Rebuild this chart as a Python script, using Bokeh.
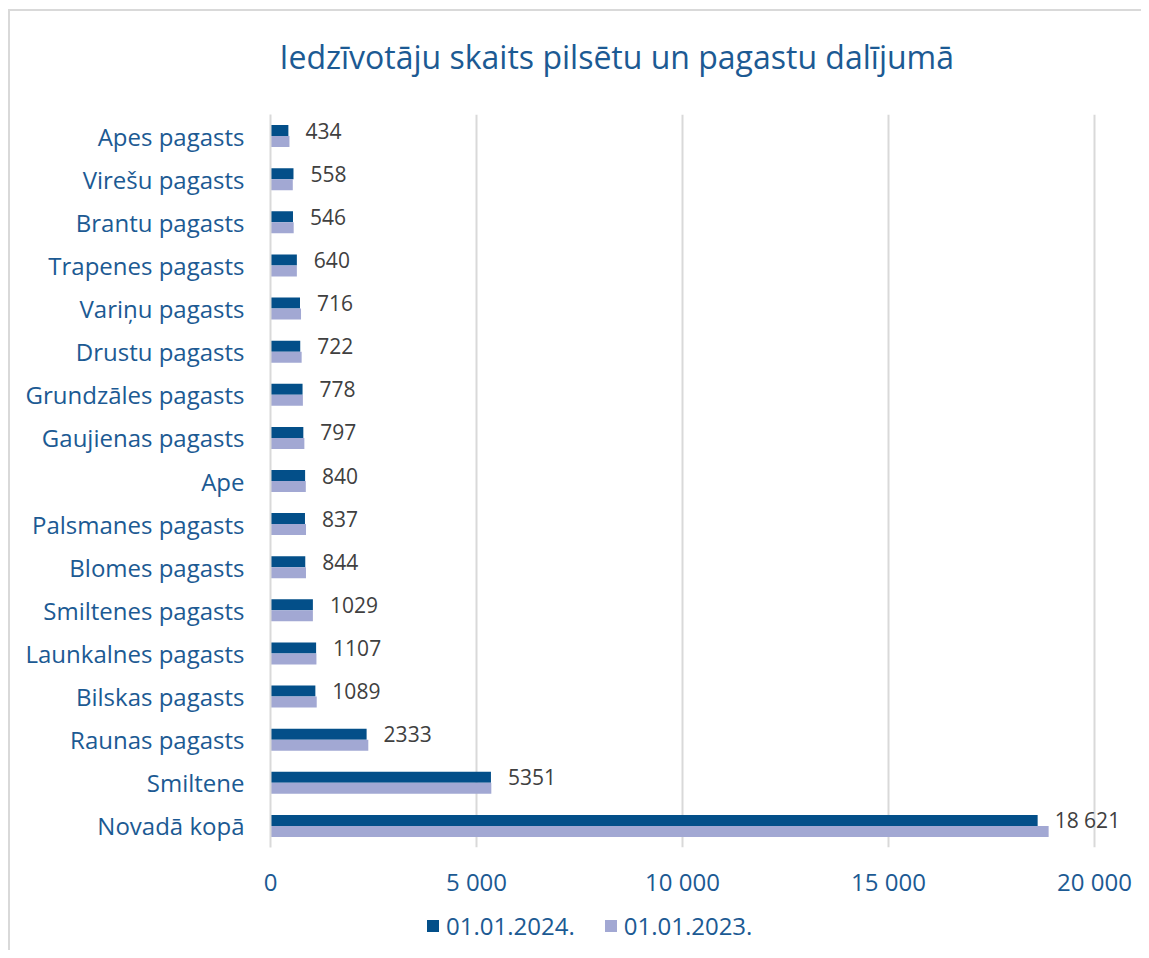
from bokeh.plotting import figure
from bokeh.layouts import column
from bokeh.models import (FactorRange, Range1d, FixedTicker, Legend, LegendItem,
                          ColumnDataSource, Label)
from bokeh.transform import dodge
from bokeh.core.properties import value
from bokeh.embed import file_html
from bokeh.resources import INLINE

title_text = "Iedzīvotāju skaits pilsētu un pagastu dalījumā"
categories = ["Apes pagasts", "Virešu pagasts", "Brantu pagasts", "Trapenes pagasts",
              "Variņu pagasts", "Drustu pagasts", "Grundzāles pagasts", "Gaujienas pagasts",
              "Ape", "Palsmanes pagasts", "Blomes pagasts", "Smiltenes pagasts",
              "Launkalnes pagasts", "Bilskas pagasts", "Raunas pagasts", "Smiltene", "Novadā kopā"]
values_2024 = [434, 558, 546, 640, 716, 722, 778, 797, 840, 837, 844, 1029, 1107, 1089, 2333, 5351, 18621]
values_2023 = [460, 541, 563, 640, 741, 756, 786, 822, 857, 862, 861, 1029, 1115, 1122, 2374, 5360, 18888]
labels_2024 = ["434", "558", "546", "640", "716", "722", "778", "797", "840", "837", "844",
               "1029", "1107", "1089", "2333", "5351", "18 621"]
series_names = ["01.01.2024.", "01.01.2023."]
x_ticks = [0, 5000, 10000, 15000, 20000]
x_tick_labels = ["0", "5 000", "10 000", "15 000", "20 000"]

BLUE_TEXT = "#1c5a93"
DARK = "#034f89"
LIGHT = "#a2a8d3"
GRID = "#d9d9d9"
FONT = "Open Sans"
LEFT_BORDER = {"background-color": "white",
               "box-shadow": "inset 8px 0 0 0 white, inset 10px 0 0 0 #d9d9d9"}
TOP_LEFT_BORDER = {"background-color": "white",
                   "box-shadow": "inset 8px 9px 0 0 white, inset 10px 11px 0 0 #d9d9d9"}

W = 1141
FRAME_L, FRAME_R = 270, 11

# ---- title strip ----
top = figure(width=W, height=114, output_backend="svg", toolbar_location=None,
             x_range=Range1d(0, W - FRAME_L - FRAME_R), y_range=Range1d(0, 114),
             min_border_left=FRAME_L, min_border_right=FRAME_R,
             min_border_top=0, min_border_bottom=0)
top.axis.visible = False
top.grid.visible = False
top.outline_line_color = None
top.background_fill_color = None
top.border_fill_color = None
top.styles = TOP_LEFT_BORDER
top.add_layout(Label(x=9, y=58.5, text=title_text, text_align="left",
                     text_baseline="alphabetic", text_font=FONT, text_font_size="32px",
                     text_color=BLUE_TEXT))

# ---- main chart ----
src = ColumnDataSource(dict(cat=categories, v24=values_2024, v23=values_2023, lab=labels_2024))

p = figure(width=W, height=789, output_backend="svg", toolbar_location=None,
           y_range=FactorRange(factors=list(reversed(categories)), range_padding=0),
           x_range=Range1d(0, 20875))
p.min_border_left = FRAME_L
p.min_border_right = FRAME_R
p.min_border_top = 0
p.min_border_bottom = 56
p.outline_line_color = None
p.background_fill_color = "white"
p.border_fill_color = None
p.styles = LEFT_BORDER

p.hbar(y=dodge("cat", 0.1275, range=p.y_range), right="v24", left=0, height=0.255,
       source=src, fill_color=DARK, line_color=None)
p.hbar(y=dodge("cat", -0.1275, range=p.y_range), right="v23", left=0, height=0.255,
       source=src, fill_color=LIGHT, line_color=None)

p.text(x="v24", y=dodge("cat", 0.1275, range=p.y_range), text="lab", source=src,
       x_offset=17, text_align="left", text_baseline="middle",
       text_font=value(FONT), text_font_size="21px", text_color="#404040")

p.xgrid.ticker = FixedTicker(ticks=x_ticks)
p.xgrid.grid_line_color = GRID
p.xgrid.grid_line_width = 2
p.ygrid.grid_line_color = None

p.xaxis.ticker = FixedTicker(ticks=x_ticks)
p.xaxis.major_label_overrides = {k: v for k, v in zip(x_ticks, x_tick_labels)}
p.xaxis.axis_line_color = None
p.xaxis.major_tick_line_color = None
p.xaxis.minor_tick_line_color = None
p.xaxis.major_label_text_font = FONT
p.xaxis.major_label_text_font_size = "24px"
p.xaxis.major_label_text_color = BLUE_TEXT
p.xaxis.major_label_standoff = 11

p.yaxis.axis_line_color = GRID
p.yaxis.axis_line_width = 2
p.yaxis.major_tick_line_color = None
p.yaxis.minor_tick_line_color = None
p.yaxis.major_label_text_font = FONT
p.yaxis.major_label_text_font_size = "24px"
p.yaxis.major_label_text_color = BLUE_TEXT
p.yaxis.major_label_standoff = 20

# ---- legend strip ----
q = figure(width=W, height=47, output_backend="svg", toolbar_location=None,
           x_range=Range1d(0, 1), y_range=Range1d(0, 1),
           min_border_left=FRAME_L, min_border_right=FRAME_R,
           min_border_top=0, min_border_bottom=0)
q.axis.visible = False
q.grid.visible = False
q.outline_line_color = None
q.background_fill_color = None
q.border_fill_color = None
q.styles = LEFT_BORDER
hidden = ColumnDataSource(dict(y=[-10], right=[1]))
g24 = q.hbar(y="y", right="right", left=0, height=0.5, source=hidden, fill_color=DARK, line_color=None)
g23 = q.hbar(y="y", right="right", left=0, height=0.5, source=hidden, fill_color=LIGHT, line_color=None)

legend = Legend(items=[LegendItem(label=series_names[0], renderers=[g24]),
                       LegendItem(label=series_names[1], renderers=[g23])],
                location=(155, 8), orientation="horizontal",
                glyph_width=15, glyph_height=15, label_standoff=6, spacing=28,
                padding=0, margin=0, border_line_color=None, background_fill_alpha=0,
                label_text_font=FONT, label_text_font_size="24px", label_text_color=BLUE_TEXT)
q.add_layout(legend, "center")

layout = column(top, p, q, spacing=0)
open("out.html", "w").write(file_html(layout, INLINE))
